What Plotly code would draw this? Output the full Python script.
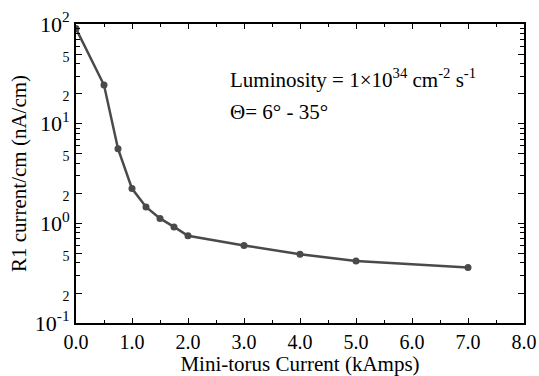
import plotly.graph_objects as go

# Mini-torus current (kA) and R1 current per cm (nA/cm)
current_ka = [0.0, 0.5, 0.75, 1.0, 1.25, 1.5, 1.75, 2.0, 3.0, 4.0, 5.0, 7.0]
r1_current = [90.0, 24.4, 5.6, 2.23, 1.46, 1.12, 0.92, 0.75, 0.60, 0.49, 0.42, 0.36]

x_tickvals = [0, 1, 2, 3, 4, 5, 6, 7, 8]
x_ticktext = ["0.0", "1.0", "2.0", "3.0", "4.0", "5.0", "6.0", "7.0", "8.0"]

small = "<span style='font-size:14px'>{}</span>"
y_tickvals = [0.1, 0.2, 0.5, 1, 2, 5, 10, 20, 50, 100]
y_ticktext = ["10<sup>-1</sup>", small.format(2), small.format(5),
              "10<sup>0</sup>", small.format(2), small.format(5),
              "10<sup>1</sup>", small.format(2), small.format(5),
              "10<sup>2</sup>"]
y_minor = [m * 10 ** e for e in (-1, 0, 1) for m in (3, 4, 6, 7, 8, 9)]

FONT = "Liberation Serif"
INK = "#4a4a4a"

fig = go.Figure()
fig.add_trace(go.Scatter(
    x=current_ka, y=r1_current, mode="lines+markers",
    line=dict(color=INK, width=2.5),
    marker=dict(color=INK, size=7),
    showlegend=False,
))

fig.update_layout(
    width=539, height=376,
    margin=dict(l=76, r=15, t=24, b=53, autoexpand=False),
    plot_bgcolor="white", paper_bgcolor="white",
    font=dict(family=FONT, size=21, color="black"),
    xaxis=dict(
        range=[0, 8], tickvals=x_tickvals, ticktext=x_ticktext,
        tickfont=dict(family=FONT, size=20), automargin=False,
        ticks="inside", ticklen=5, tickwidth=1, tickcolor="black",
        minor=dict(dtick=0.5, tick0=0, ticks="inside", ticklen=3, tickcolor="black"),
        showline=True, linecolor="black", linewidth=2, mirror="allticks",
        showgrid=False, zeroline=False,
        title=dict(text="Mini-torus Current (kAmps)", standoff=3,
                   font=dict(family=FONT, size=21)),
    ),
    yaxis=dict(
        type="log", range=[-1, 2],
        tickvals=y_tickvals, ticktext=y_ticktext,
        tickfont=dict(family=FONT, size=22), automargin=False,
        ticks="inside", ticklen=6, tickwidth=1, tickcolor="black",
        minor=dict(tickvals=y_minor, ticks="inside", ticklen=4, tickcolor="black"),
        showline=True, linecolor="black", linewidth=2, mirror="allticks",
        showgrid=False, zeroline=False,
        title=dict(text="R1 current/cm (nA/cm)", standoff=2,
                   font=dict(family=FONT, size=21)),
    ),
    annotations=[
        dict(x=0.34, y=0.819, xref="paper", yref="paper", xanchor="left", yanchor="middle",
             showarrow=False, font=dict(family=FONT, size=21),
             text="Luminosity = 1\u00d710<sup>34</sup> cm<sup>-2</sup> s<sup>-1</sup>"),
        dict(x=0.34, y=0.706, xref="paper", yref="paper", xanchor="left", yanchor="middle",
             showarrow=False, font=dict(family=FONT, size=21),
             text="\u0398= 6\u00b0 - 35\u00b0"),
    ],
)

fig.write_html("out.html")
